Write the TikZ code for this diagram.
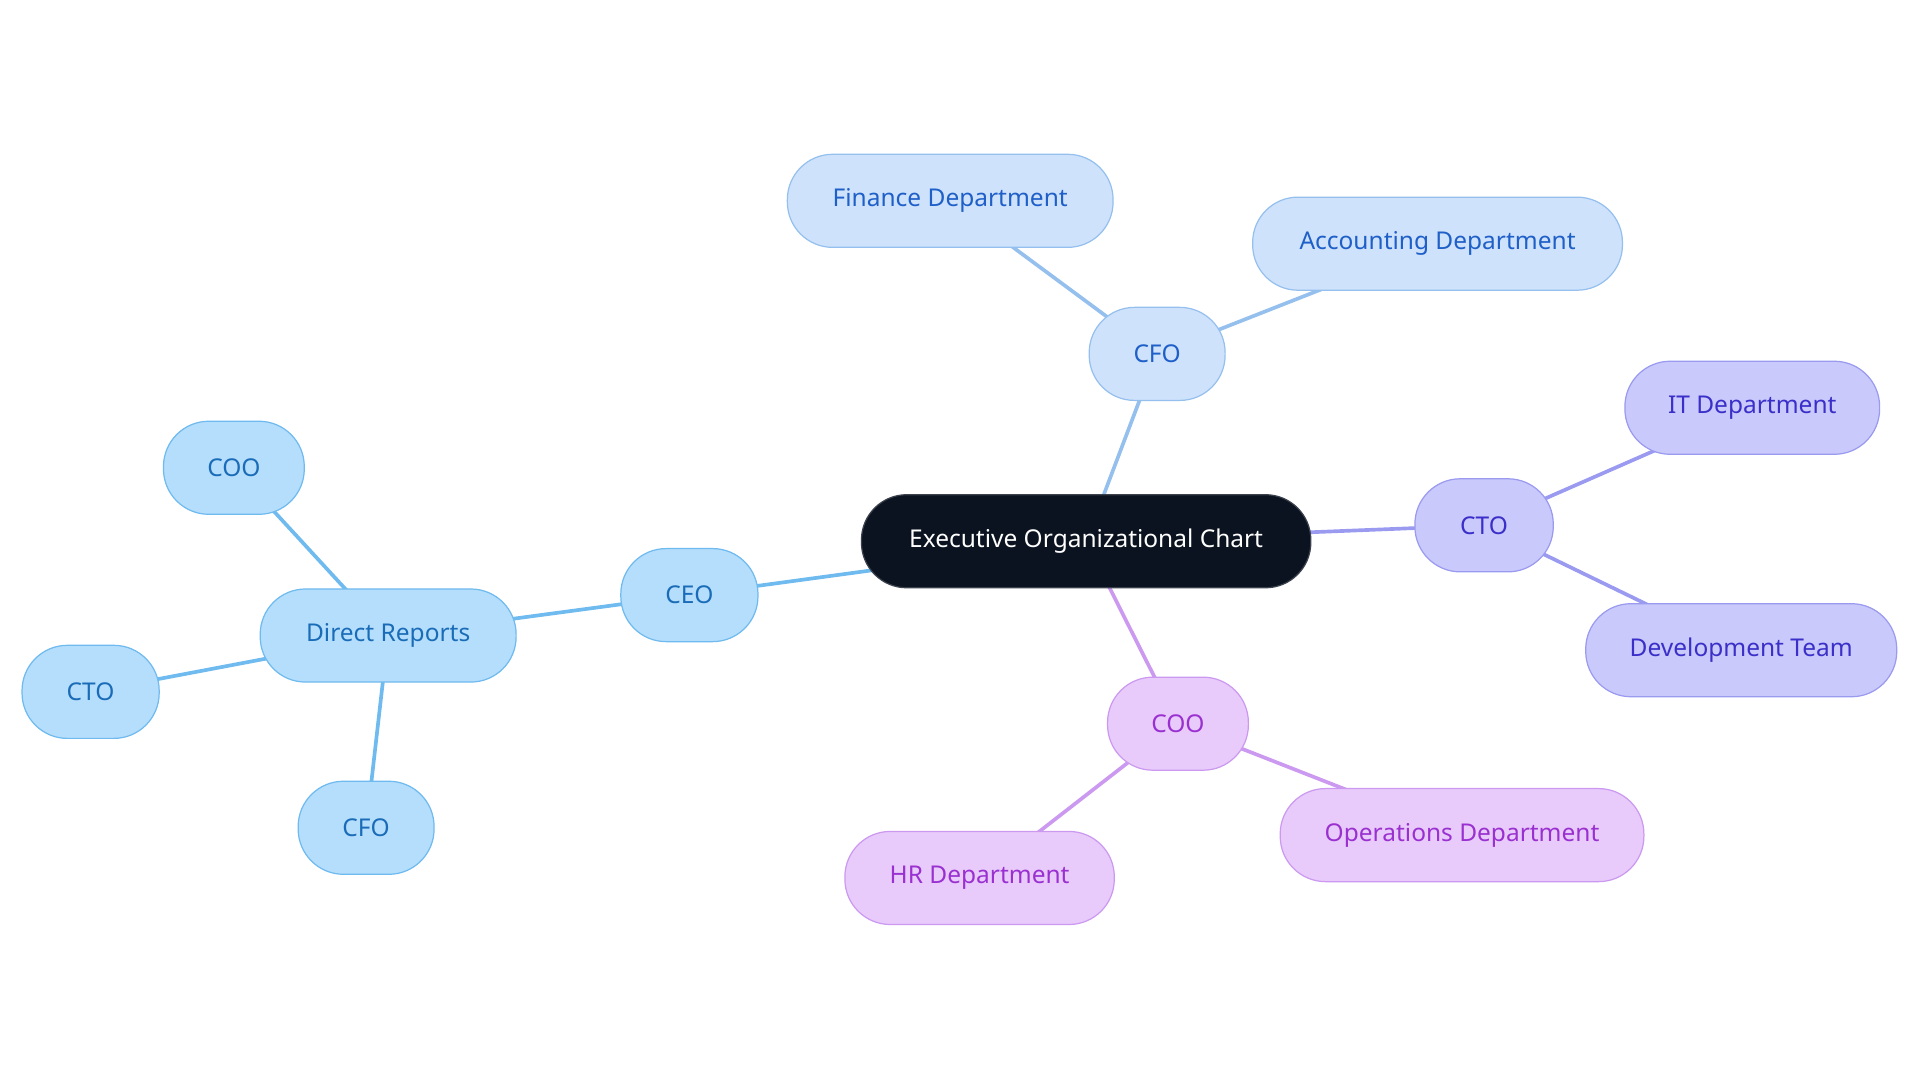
\documentclass[tikz,border=0pt]{standalone}
\usepackage{fontspec}
\setmainfont{Noto Sans}
\usetikzlibrary{backgrounds}
\definecolor{cA}{HTML}{B5DEFC}\definecolor{sA}{HTML}{6FBAEE}\definecolor{tA}{HTML}{1A6CB8}
\definecolor{cB}{HTML}{CFE2FB}\definecolor{sB}{HTML}{95C0EE}\definecolor{tB}{HTML}{1E5FC8}
\definecolor{cC}{HTML}{C9C9FB}\definecolor{sC}{HTML}{9A9AF0}\definecolor{tC}{HTML}{3A2FC8}
\definecolor{cD}{HTML}{E8CBFB}\definecolor{sD}{HTML}{CC99F0}\definecolor{tD}{HTML}{9A30D0}
\definecolor{dark}{HTML}{0B1320}
\tikzset{
 box/.style={rounded corners=37pt,minimum height=76pt,line width=1pt,font=\fontsize{20}{24}\selectfont,inner sep=0pt},
 bA/.style={box,fill=cA,draw=sA,text=tA},
 bB/.style={box,fill=cB,draw=sB,text=tB},
 bC/.style={box,fill=cC,draw=sC,text=tC},
 bD/.style={box,fill=cD,draw=sD,text=tD},
 eA/.style={draw=sA,line width=3pt},
 eB/.style={draw=sB,line width=3pt},
 eC/.style={draw=sC,line width=3pt},
 eD/.style={draw=sD,line width=3pt},
}
\begin{document}
\begin{tikzpicture}[x=1pt,y=-1pt]
\useasboundingbox (0,0) rectangle (1568,884);
\node[box,fill=dark,draw=dark!80,text=white,minimum width=367pt] (ex) at (887,442) {Executive Organizational Chart};
\node[bA,minimum width=112pt] (ceo) at (563,486) {CEO};
\node[bA,minimum width=209pt] (dr) at (317,519) {Direct Reports};
\node[bA,minimum width=115pt] (coo1) at (191,382) {COO};
\node[bA,minimum width=112pt] (cto1) at (74,565) {CTO};
\node[bA,minimum width=111pt] (cfo1) at (299,676) {CFO};
\node[bB,minimum width=111pt] (cfo) at (945,289) {CFO};
\node[bB,minimum width=266pt] (fin) at (776,164) {Finance Department};
\node[bB,minimum width=302pt] (acc) at (1174,199) {Accounting Department};
\node[bC,minimum width=113pt] (cto) at (1212,429) {CTO};
\node[bC,minimum width=208pt] (it) at (1431,333) {IT Department};
\node[bC,minimum width=254pt] (dev) at (1422,531) {Development Team};
\node[bD,minimum width=115pt] (coo) at (962,591) {COO};
\node[bD,minimum width=220pt] (hr) at (800,717) {HR Department};
\node[bD,minimum width=297pt] (ops) at (1194,682) {Operations Department};
\begin{scope}[on background layer]
\path[eA] (ex.center) -- (ceo.center) (ceo.center) -- (dr.center) (dr.center) -- (coo1.center) (dr.center) -- (cto1.center) (dr.center) -- (cfo1.center);
\path[eB] (ex.center) -- (cfo.center) (cfo.center) -- (fin.center) (cfo.center) -- (acc.center);
\path[eC] (ex.center) -- (cto.center) (cto.center) -- (it.center) (cto.center) -- (dev.center);
\path[eD] (ex.center) -- (coo.center) (coo.center) -- (hr.center) (coo.center) -- (ops.center);
\end{scope}
\end{tikzpicture}
\end{document}
